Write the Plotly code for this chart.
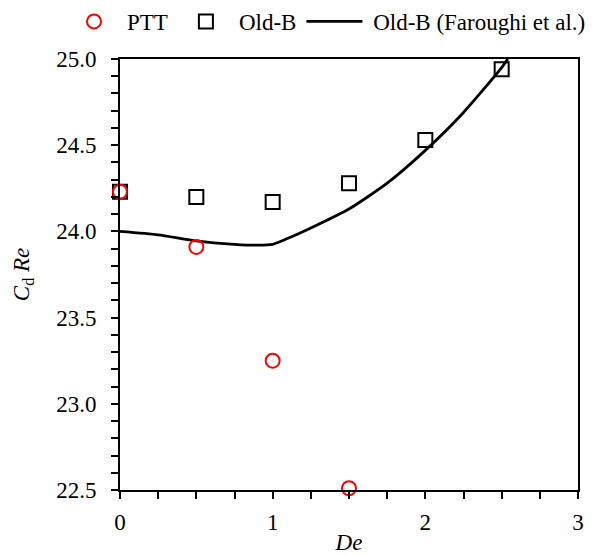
import plotly.graph_objects as go

# Data
de_ptt = [0, 0.5, 1.0, 1.5]
cdre_ptt = [24.23, 23.91, 23.25, 22.51]

de_oldb = [0, 0.5, 1.0, 1.5, 2.0, 2.5]
cdre_oldb = [24.23, 24.20, 24.17, 24.28, 24.53, 24.94]

de_far = [0, 0.25, 0.5, 0.75, 0.9, 1.0, 1.1, 1.25, 1.5, 1.75, 2.0, 2.25, 2.5, 2.54]
cdre_far = [24.0, 23.98, 23.945, 23.925, 23.92, 23.925, 23.96, 24.02, 24.13, 24.28, 24.47, 24.69, 24.95, 25.0]

names = ["PTT", "Old-B", "\u00a0Old-B (Faroughi et al.)"]

FONT = "Liberation Serif, Times New Roman, serif"
FS = 23
L, R, T, B = 120, 17, 59, 65
W, H = 595, 555
pw, ph = W - L - R, H - T - B

fig = go.Figure()
fig.add_trace(go.Scatter(
    x=de_far, y=cdre_far, mode="lines", name=names[2],
    line=dict(color="black", width=2.8, shape="spline", smoothing=0.6),
    legendrank=3, cliponaxis=False))
fig.add_trace(go.Scatter(
    x=de_oldb, y=cdre_oldb, mode="markers", name=names[1],
    marker=dict(symbol="square-open", size=14, color="black", line=dict(width=2, color="black")),
    legendrank=2, cliponaxis=False))
fig.add_trace(go.Scatter(
    x=de_ptt, y=cdre_ptt, mode="markers", name=names[0],
    marker=dict(symbol="circle-open", size=14, color="red", line=dict(width=2, color="red")),
    legendrank=1, cliponaxis=False))

fig.update_layout(
    width=W, height=H,
    margin=dict(l=L, r=R, t=T, b=B, autoexpand=False),
    paper_bgcolor="white", plot_bgcolor="white",
    font=dict(family=FONT, size=FS, color="black"),
    showlegend=True,
    legend=dict(orientation="h", x=(61 - L) / pw, xanchor="left",
                y=1 + T / ph, yanchor="top", font=dict(size=FS), itemwidth=56,
                bgcolor="rgba(0,0,0,0)", tracegroupgap=0),
    xaxis=dict(range=[0, 3], dtick=1, tick0=0, ticks="outside", ticklen=7, tickwidth=1.5,
               tickcolor="black", showline=True, linecolor="black", linewidth=2,
               mirror=True, showgrid=False, zeroline=False,
               minor=dict(dtick=0.25, ticks="outside", ticklen=7, tickwidth=1.5, tickcolor="black", showgrid=False),
               title=dict(text="<i>De</i>", font=dict(size=FS), standoff=2),
               tickfont=dict(size=FS), ticklabelstandoff=3),
    yaxis=dict(range=[22.5, 25.0], dtick=0.5, tick0=22.5, tickformat=".1f", ticks="outside",
               ticklen=7, tickwidth=1.5, tickcolor="black", showline=True, linecolor="black",
               linewidth=2, mirror=True, showgrid=False, zeroline=False,
               minor=dict(dtick=0.1, ticks="outside", ticklen=7, tickwidth=1.5, tickcolor="black", showgrid=False),
               title=dict(text="<i>C</i><sub>d</sub> <i>Re</i>", font=dict(size=FS), standoff=20),
               tickfont=dict(size=FS), ticklabelstandoff=10),
)

fig.write_html("out.html")
